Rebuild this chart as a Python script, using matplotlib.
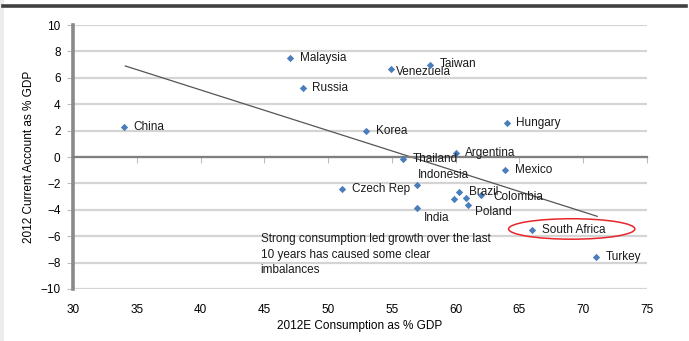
import numpy as np
import matplotlib
matplotlib.use("Agg")
import matplotlib.pyplot as plt
from matplotlib.patches import Ellipse, Rectangle
from matplotlib.lines import Line2D

plt.rcParams["font.family"] = ["Liberation Sans", "DejaVu Sans"]

# consumption (% GDP) vs current account (% GDP), 2012
COUNTRIES = ["China", "Malaysia", "Russia", "Venezuela", "Taiwan", "Korea", "Hungary",
             "Thailand", "Argentina", "Mexico", "Indonesia", "Czech Rep", "Brazil",
             "", "", "Colombia", "Poland", "India", "South Africa", "Turkey"]
CONSUMPTION = [34.0, 47.0, 48.0, 54.9, 58.0, 53.0, 64.0,
               55.9, 60.0, 63.9, 57.0, 51.1, 60.3,
               59.9, 60.8, 62.0, 61.0, 57.0, 66.0, 71.0]
CURRENT_ACC = [2.3, 7.5, 5.2, 6.7, 7.0, 2.0, 2.6,
               -0.15, 0.3, -1.0, -2.1, -2.4, -2.65,
               -3.2, -3.1, -2.9, -3.6, -3.9, -5.5, -7.6]
# label offsets in points (dx, dy)
OFFSETS = {"Indonesia": (0, 7), "Poland": (5, -5.5), "India": (4.5, -6.5),
           "Colombia": (9, -1), "Venezuela": (4, -2.5), "Taiwan": (7, 0.5)}

TREND_X = (34.1, 71.1)
NOTE = "Strong consumption led growth over the last\n10 years has caused some clear\nimbalances"
BLUE = "#4a7ebb"
FS = 8.5

fig = plt.figure(figsize=(6.89, 3.41), dpi=100)
ax = fig.add_axes([0.106, 0.1525, 0.833, 0.774])

# page furniture: dark rule on top, faint strip on the left
fig.add_artist(Line2D([0.004, 0.996], [0.982, 0.982], transform=fig.transFigure,
                      color="#404040", lw=2.6))
fig.add_artist(Rectangle((0, 0), 0.006, 1, transform=fig.transFigure,
                         color="#ececec", lw=0))

ax.set_xlim(30, 75)
ax.set_ylim(-10, 10)
ax.set_yticks(np.arange(-10, 11, 2))
ax.set_xticks(np.arange(30, 76, 5))
ax.grid(axis="y", color="#d4d4d4", lw=1.6)
ax.set_axisbelow(True)
for s in ("top", "right"):
    ax.spines[s].set_visible(False)
ax.spines["left"].set_color("#8a8a8a")
ax.spines["left"].set_linewidth(2.6)
ax.spines["bottom"].set_position(("data", 0))
ax.spines["bottom"].set_color("#7f7f7f")
ax.spines["bottom"].set_linewidth(1.6)
ax.tick_params(axis="x", direction="out", length=4, color="#bdbdbd", labelbottom=False)
ax.tick_params(axis="y", direction="out", length=4, color="#bdbdbd", labelsize=FS, pad=5)

sec = ax.secondary_xaxis("bottom")
sec.set_xticks(np.arange(30, 76, 5))
sec.spines["bottom"].set_visible(False)
sec.tick_params(length=0, labelsize=FS, pad=11)

x = np.array(CONSUMPTION)
y = np.array(CURRENT_ACC)
ax.scatter(x, y, marker="D", s=14, color=BLUE, zorder=3, lw=0)

k, b = np.polyfit(x, y, 1)
tx = np.array(TREND_X)
ax.plot(tx, k * tx + b, color="#555555", lw=0.9, zorder=2)

for name, xi, yi in zip(COUNTRIES, CONSUMPTION, CURRENT_ACC):
    if not name:
        continue
    dx, dy = OFFSETS.get(name, (7, 0))
    ax.annotate(name, (xi, yi), xytext=(dx, dy), textcoords="offset points",
                fontsize=FS, va="center", ha="left", color="#1a1a1a", zorder=4)

ax.add_patch(Ellipse((69.1, -5.45), 9.9, 1.55, fill=False, edgecolor="#e8262a", lw=1.1))
ax.text(44.7, -5.75, NOTE, fontsize=FS, va="top", ha="left", color="#1a1a1a",
        linespacing=1.4)

ax.set_ylabel("2012 Current Account as % GDP", fontsize=FS, labelpad=4)
sec.set_xlabel("2012E Consumption as % GDP", fontsize=FS, labelpad=3)

fig.savefig("out.png", dpi=100)
